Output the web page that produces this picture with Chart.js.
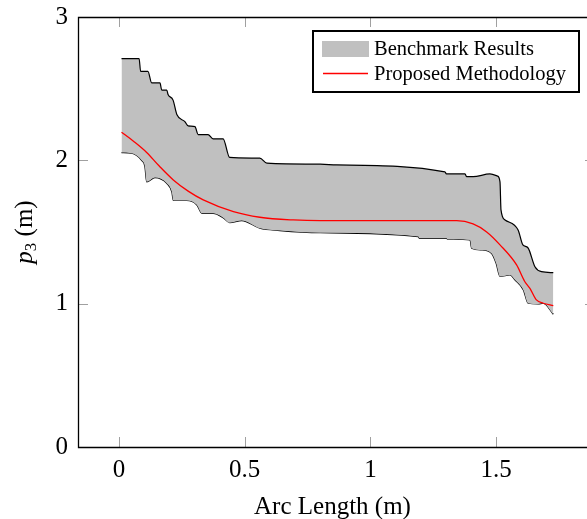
<!DOCTYPE html>
<html>
<head>
<meta charset="utf-8">
<script src="https://cdn.jsdelivr.net/npm/chart.js@4.4.0/dist/chart.umd.min.js"></script>
<style>
html, body { margin: 0; padding: 0; background: #fff; }
</style>
</head>
<body>
<canvas id="myChart" width="587" height="519"></canvas>
<script>
// x ticks and y ticks
var xTicks = [0, 0.5, 1, 1.5];
var yTicks = [0, 1, 2, 3];

// upper edge of benchmark band
var upperX = [0.01, 0.08, 0.086, 0.115, 0.13, 0.163, 0.17, 0.19, 0.195, 0.215, 0.23, 0.262, 0.275, 0.302, 0.315, 0.354, 0.374, 0.414, 0.44, 0.56, 0.588, 0.8, 0.866, 1.296, 1.302, 1.376, 1.382, 1.408, 1.475, 1.505, 1.515, 1.519, 1.535, 1.587, 1.606, 1.626, 1.654, 1.68, 1.727];
var upperY = [2.71, 2.71, 2.62, 2.62, 2.54, 2.54, 2.49, 2.49, 2.46, 2.42, 2.32, 2.27, 2.24, 2.235, 2.18, 2.18, 2.15, 2.15, 2.02, 2.015, 1.98, 1.973, 1.968, 1.92, 1.905, 1.905, 1.886, 1.886, 1.905, 1.89, 1.85, 1.654, 1.584, 1.514, 1.41, 1.39, 1.258, 1.223, 1.216];

// lower edge of benchmark band
var lowerX = [0.01, 0.05, 0.09, 0.103, 0.11, 0.143, 0.19, 0.21, 0.216, 0.269, 0.309, 0.33, 0.375, 0.414, 0.44, 0.488, 0.56, 0.64, 0.8, 1.19, 1.195, 1.303, 1.306, 1.396, 1.402, 1.442, 1.482, 1.5, 1.515, 1.555, 1.575, 1.608, 1.627, 1.667, 1.687, 1.727];
var lowerY = [2.054, 2.05, 2.0, 1.956, 1.85, 1.88, 1.84, 1.78, 1.72, 1.72, 1.69, 1.63, 1.63, 1.6, 1.565, 1.58, 1.526, 1.51, 1.495, 1.468, 1.456, 1.456, 1.45, 1.445, 1.387, 1.375, 1.35, 1.28, 1.19, 1.2, 1.165, 1.096, 1.003, 0.998, 1.003, 0.926];

// proposed methodology
var methodX = [0.01, 0.06, 0.11, 0.16, 0.216, 0.275, 0.335, 0.455, 0.56, 0.693, 0.8, 1.343, 1.408, 1.462, 1.515, 1.581, 1.614, 1.634, 1.66, 1.687, 1.727];
var methodY = [2.196, 2.13, 2.055, 1.96, 1.863, 1.785, 1.724, 1.642, 1.603, 1.584, 1.579, 1.579, 1.556, 1.5, 1.41, 1.27, 1.153, 1.107, 1.026, 1.003, 0.986];

function toPoints(xs, ys) {
    return xs.map(function(x, i) { return {x: x, y: ys[i]}; });
}

var serif = "'Liberation Serif', 'Times New Roman', serif";

/*
 * frame: axis box, inward ticks, y title, legend box
 */
var framePlugin = {
    id: 'frame',
    afterDraw: function(chart) {
        var ctx = chart.ctx;
        var a = chart.chartArea;
        var xs = chart.scales.x, ys = chart.scales.y;
        ctx.save();

        // tick marks
        ctx.strokeStyle = "#a0a0a0";
        ctx.lineWidth = 1;
        ctx.beginPath();
        xTicks.forEach(function(v) {
            var px = Math.round(xs.getPixelForValue(v)) + 0.5;
            ctx.moveTo(px, a.bottom); ctx.lineTo(px, a.bottom - 10);
            ctx.moveTo(px, a.top); ctx.lineTo(px, a.top + 10);
        });
        yTicks.forEach(function(v) {
            var py = Math.round(ys.getPixelForValue(v)) + 0.5;
            ctx.moveTo(a.left, py); ctx.lineTo(a.left + 10, py);
            ctx.moveTo(a.right + 8, py); ctx.lineTo(a.right - 2, py);
        });
        ctx.stroke();

        // axis lines (right side is off the picture)
        ctx.strokeStyle = "#000";
        ctx.lineWidth = 1.3;
        ctx.beginPath();
        ctx.moveTo(a.right, a.top + 0.5);
        ctx.lineTo(a.left + 0.5, a.top + 0.5);
        ctx.lineTo(a.left + 0.5, a.bottom + 0.5);
        ctx.lineTo(a.right, a.bottom + 0.5);
        ctx.stroke();

        // y title: p_3 (m)
        ctx.translate(29, (a.top + a.bottom) / 2);
        ctx.rotate(-Math.PI / 2);
        ctx.fillStyle = "#000";
        ctx.textBaseline = "alphabetic";
        var f1 = "italic 25px " + serif, f2 = "17px " + serif, f3 = "25px " + serif;
        ctx.font = f1; var w1 = ctx.measureText("p").width;
        ctx.font = f2; var w2 = ctx.measureText("3").width;
        ctx.font = f3; var w3 = ctx.measureText(" (m)").width;
        var sx = -(w1 + w2 + w3) / 2;
        ctx.font = f1; ctx.fillText("p", sx, 3);
        ctx.font = f2; ctx.fillText("3", sx + w1, 7);
        ctx.font = f3; ctx.fillText(" (m)", sx + w1 + w2, 3);
        ctx.restore();

        // legend
        ctx.save();
        var lx = 313, ly = 31, lw = 266, lh = 61;
        ctx.fillStyle = "#fff";
        ctx.fillRect(lx, ly, lw, lh);
        ctx.strokeStyle = "#000";
        ctx.lineWidth = 2;
        ctx.strokeRect(lx, ly, lw, lh);
        var ds = chart.data.datasets;
        ctx.fillStyle = ds[1].backgroundColor;
        ctx.fillRect(322, 41, 47, 16);
        ctx.strokeStyle = ds[0].borderColor;
        ctx.lineWidth = 1.3;
        ctx.beginPath();
        ctx.moveTo(323, 73.5); ctx.lineTo(368, 73.5);
        ctx.stroke();
        ctx.fillStyle = "#000";
        ctx.font = "20.5px " + serif;
        ctx.textBaseline = "alphabetic";
        ctx.fillText(ds[1].label, 374, 55);
        ctx.fillText(ds[0].label, 374, 80);
        ctx.restore();
    }
};

var chart = new Chart(document.getElementById("myChart").getContext('2d'), {
    type: 'line',
    data: {
        datasets: [
            {
                label: "Proposed Methodology",
                data: toPoints(methodX, methodY),
                borderColor: "#ff0000",
                borderWidth: 1.3,
                pointRadius: 0,
                cubicInterpolationMode: 'monotone',
                fill: false
            },
            {
                label: "Benchmark Results",
                data: toPoints(upperX, upperY),
                borderColor: "#000",
                borderWidth: 1.2,
                backgroundColor: "#c0c0c0",
                pointRadius: 0,
                cubicInterpolationMode: 'monotone',
                fill: '+1'
            },
            {
                label: "Benchmark lower",
                data: toPoints(lowerX, lowerY),
                borderColor: "#000",
                borderWidth: 1.2,
                pointRadius: 0,
                cubicInterpolationMode: 'monotone',
                fill: false
            }
        ]
    },
    options: {
        responsive: false,
        animation: false,
        layout: { padding: { top: 17, right: 0, left: 0, bottom: 0 } },
        plugins: {
            legend: { display: false },
            tooltip: { enabled: false }
        },
        scales: {
            x: {
                type: 'linear',
                min: -0.163,
                max: 1.861,
                afterBuildTicks: function(s) { s.ticks = xTicks.map(function(v) { return {value: v}; }); },
                afterFit: function(s) { s.height = 72; s.paddingLeft = 0; s.paddingRight = 0; },
                grid: { display: false, drawTicks: false },
                border: { display: false },
                ticks: { color: "#000", font: { family: serif, size: 25 }, padding: 8, maxRotation: 0,
                         callback: function(v) { return String(v); } },
                title: { display: true, text: "Arc Length (m)", color: "#000", font: { family: serif, size: 25 }, padding: { top: 0, bottom: -3 } }
            },
            y: {
                type: 'linear',
                min: 0,
                max: 3,
                afterBuildTicks: function(s) { s.ticks = yTicks.map(function(v) { return {value: v}; }); },
                afterFit: function(s) { s.width = 78; s.paddingTop = 0; s.paddingBottom = 0; },
                grid: { display: false, drawTicks: false },
                border: { display: false },
                ticks: { color: "#000", font: { family: serif, size: 25 }, padding: 10,
                         callback: function(v) { return String(v); } }
            }
        }
    },
    plugins: [framePlugin]
});
</script>
</body>
</html>
